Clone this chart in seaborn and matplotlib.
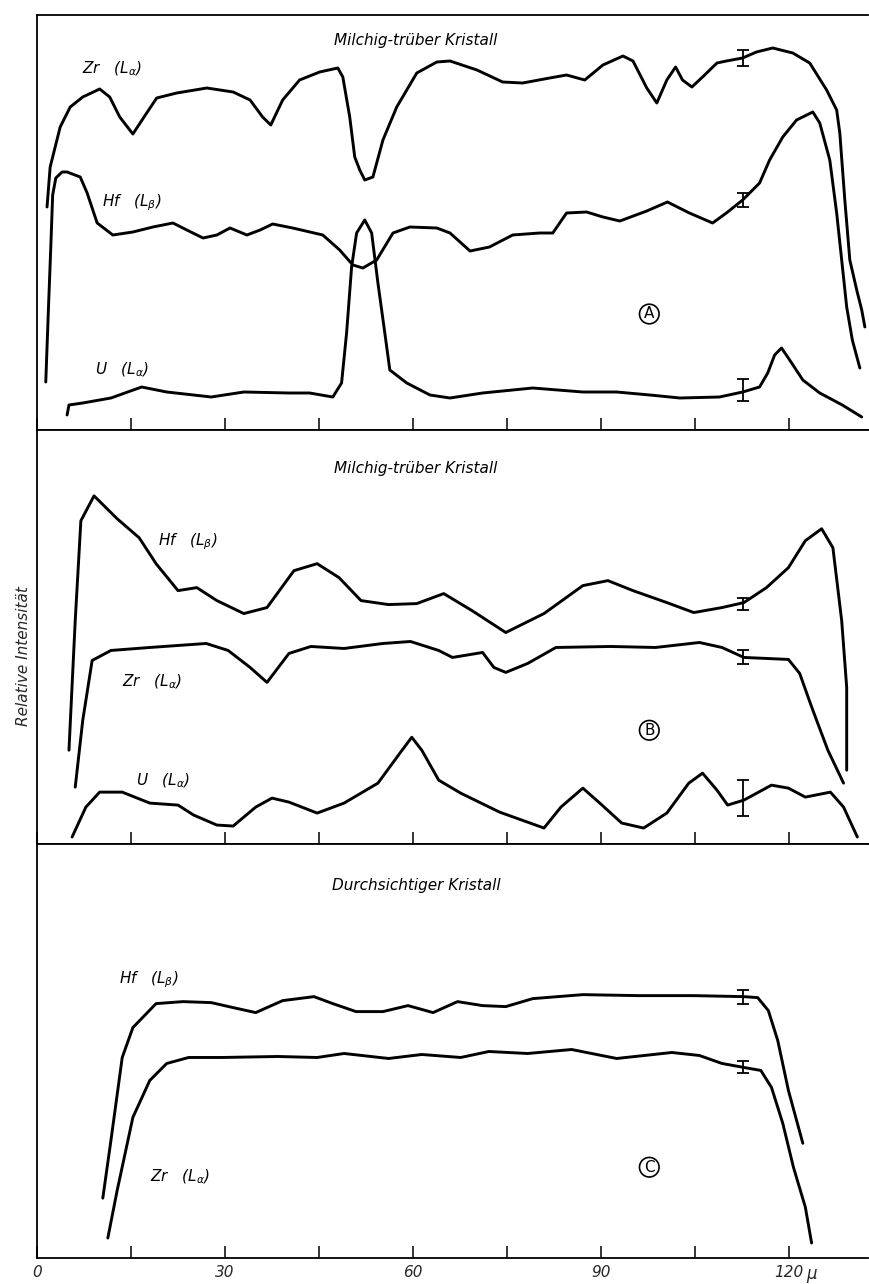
import numpy as np
import matplotlib
matplotlib.use("Agg")
import matplotlib.pyplot as plt
import seaborn as sns

# x positions in micrometres, intensities in arbitrary units (panel height ~415)

# panel A: Milchig-trueber Kristall
a_zr_x = [1.6, 2.1, 3.7, 5.3, 7.3, 10.0, 11.6, 13.2, 15.3, 17.5, 19.1, 22.3, 27.1, 31.3, 34.0, 36.0,
          37.3, 39.2, 41.9, 45.1, 48.0, 48.8, 49.9, 50.7, 51.5, 52.3, 53.6, 55.2, 57.4, 60.6, 63.8,
          65.9, 70.2, 74.3, 77.5, 81.8, 84.5, 87.4, 90.3, 93.5, 95.1, 97.3, 98.9, 100.5, 101.9, 103.0,
          104.5, 106.2, 108.5, 110.0, 112.6, 114.8, 117.4, 120.6, 123.3, 126.0, 127.6, 128.1, 128.9,
          129.7, 130.8, 131.6, 132.1]
a_zr_y = [223, 263, 303, 323, 333, 341, 333, 313, 296, 317, 332, 337, 342, 338, 330, 313,
          305, 330, 350, 358, 362, 353, 313, 273, 260, 250, 253, 290, 323, 357, 368,
          369, 360, 348, 347, 352, 355, 350, 365, 374, 369, 342, 327, 350, 363, 350,
          343, 353, 367, 369, 372, 378, 382, 377, 367, 340, 320, 297, 230,
          170, 140, 120, 103]

a_hf_x = [1.4, 1.8, 2.2, 2.5, 3.0, 4.0, 4.8, 6.9, 8.0, 9.6, 12.1, 15.3, 18.5, 21.7, 23.9, 26.5,
          28.7, 30.8, 33.5, 35.6, 37.6, 40.8, 45.6, 48.3, 50.4, 52.0, 54.2, 56.8, 59.5, 63.8, 65.9,
          69.1, 72.2, 75.9, 80.2, 82.3, 84.5, 87.7, 90.3, 93.0, 97.3, 100.6, 104.1, 107.8, 110.0,
          112.6, 115.3, 116.9, 119.0, 121.2, 123.8, 124.9, 126.5, 127.6, 128.4, 129.2, 130.1, 131.3]
a_hf_y = [48, 117, 183, 235, 252, 258, 258, 253, 237, 207, 195, 198, 203, 207, 200, 192,
          195, 202, 195, 200, 206, 202, 195, 180, 165, 162, 170, 197, 203, 202, 197,
          179, 183, 195, 197, 197, 217, 218, 213, 209, 219, 228, 217, 207, 217,
          230, 247, 270, 293, 310, 318, 307, 270, 217, 170, 123, 90, 62]

a_u_x = [4.8, 5.1, 7.3, 11.8, 16.7, 20.7, 27.8, 33.0, 40.2, 43.5, 47.2, 48.6, 49.4, 50.2, 51.0,
         52.3, 53.4, 54.4, 55.5, 56.3, 59.0, 62.7, 65.9, 71.1, 79.1, 87.1, 92.5, 97.8, 102.6,
         108.9, 112.6, 115.3, 116.6, 117.7, 118.8, 120.1, 122.2, 124.9, 128.5, 131.6]
a_u_y = [15, 25, 27, 32, 43, 38, 33, 38, 37, 37, 33, 47, 97, 163, 197,
         210, 197, 147, 97, 60, 47, 35, 32, 37, 42, 38, 38, 35, 32,
         33, 38, 43, 57, 75, 82, 70, 50, 37, 25, 13]

# panel B: Milchig-trueber Kristall
b_hf_x = [5.1, 6.1, 7.0, 9.1, 12.8, 16.3, 19.0, 22.5, 25.5, 28.7, 33.0, 36.7, 41.0, 44.7, 48.2,
          51.7, 56.1, 60.6, 64.9, 69.4, 74.8, 80.9, 87.1, 91.1, 95.1, 100.5, 104.8, 109.3, 112.8,
          116.4, 119.9, 122.6, 125.2, 127.0, 128.4, 129.2, 129.2]
b_hf_y = [94, 224, 324, 349, 326, 307, 281, 254, 257, 244, 231, 237, 274, 281, 267,
          244, 240, 241, 251, 234, 212, 231, 259, 264, 254, 242, 232, 237, 242,
          257, 277, 304, 316, 297, 224, 157, 74]

b_zr_x = [6.1, 7.3, 8.8, 11.8, 18.0, 27.0, 30.5, 34.0, 36.7, 40.2, 43.7, 49.0, 55.2, 59.6, 64.1,
          66.3, 71.1, 72.9, 74.8, 78.3, 82.8, 91.5, 98.7, 105.7, 109.3, 112.8, 116.4, 119.9, 121.7,
          123.4, 124.4, 126.2, 128.7]
b_zr_y = [57, 124, 184, 194, 197, 201, 194, 177, 162, 191, 198, 196, 201, 203, 194,
          187, 192, 177, 172, 181, 197, 198, 197, 202, 197, 187, 186, 185, 171,
          141, 124, 94, 61]

b_u_x = [5.6, 7.8, 10.0, 13.6, 18.0, 22.5, 25.0, 28.7, 31.3, 34.9, 37.5, 40.2, 44.7, 49.0, 54.4,
         57.9, 59.8, 61.4, 64.1, 67.6, 73.8, 80.9, 83.6, 87.1, 89.8, 93.3, 96.8, 100.5, 104.0,
         106.2, 108.5, 110.2, 112.8, 117.2, 119.9, 122.6, 126.6, 128.7, 130.9]
b_u_y = [7, 37, 52, 52, 41, 39, 29, 19, 18, 37, 46, 42, 31, 41, 61,
         91, 107, 94, 64, 51, 32, 16, 37, 56, 41, 21, 16, 31, 61,
         71, 54, 39, 44, 59, 56, 47, 52, 37, 7]

# panel C: Durchsichtiger Kristall
c_hf_x = [10.5, 11.8, 13.6, 15.3, 19.0, 23.3, 27.8, 31.3, 34.9, 39.2, 44.2, 47.2, 50.9, 55.2,
          59.2, 63.2, 67.1, 71.1, 74.8, 79.1, 87.1, 96.0, 104.8, 112.8, 115.0, 116.7, 118.2,
          119.9, 122.2]
c_hf_y = [60, 118, 201, 231, 255, 257, 256, 251, 246, 258, 262, 255, 247, 247,
          253, 246, 257, 253, 252, 260, 264, 263, 263, 262, 261, 248, 218,
          168, 115]

c_zr_x = [11.3, 12.8, 15.3, 18.0, 20.7, 24.2, 29.5, 38.4, 44.7, 49.0, 56.1, 61.4, 67.6, 72.1,
          78.3, 85.3, 92.5, 101.3, 105.7, 109.3, 112.8, 115.5, 117.2, 119.0, 120.7, 122.6, 123.6]
c_zr_y = [20, 68, 141, 178, 195, 201, 201, 202, 201, 205, 200, 204, 201, 207,
          205, 209, 200, 206, 203, 195, 191, 188, 171, 135, 91, 51, 15]

# error bars (x, centre, half length) per panel
err_x = 112.7
a_err_y = [372, 230, 40]
a_err_h = [8, 7, 11]
b_err_y = [241, 187, 46]
b_err_h = [6, 7, 18]
c_err_y = [262, 191]
c_err_h = [7, 6]

panel_titles = ["Milchig-trüber Kristall", "Milchig-trüber Kristall", "Durchsichtiger Kristall"]
panel_marks = ["A", "B", "C"]
tick_pos = [0, 15, 30, 45, 60, 75, 90, 105, 120]
tick_lab = ["0", "", "30", "", "60", "", "90", "", "120"]

sns.set_style("white")
plt.rcParams["font.family"] = ["DejaVu Sans"]
plt.rcParams["mathtext.fontset"] = "dejavusans"

fig = plt.figure(figsize=(8.7, 12.84), dpi=100)
left, width = 37 / 870, 831 / 870
axA = fig.add_axes([left, 1 - 430 / 1284, width, 415 / 1284])
axB = fig.add_axes([left, 1 - 844 / 1284, width, 414 / 1284])
axC = fig.add_axes([left, 1 - 1258 / 1284, width, 414 / 1284])

lw = 2.1
for ax in (axA, axB, axC):
    ax.set_xlim(0, 132.6)
    ax.set_ylim(0, 415)
    ax.set_yticks([])
    ax.set_xticks(tick_pos)
    ax.set_xticklabels([])
    ax.tick_params(axis="x", direction="in", length=9, width=1.1, color="k", bottom=True)
    for s in ("left", "bottom", "top"):
        ax.spines[s].set_visible(True)
        ax.spines[s].set_color("k")
        ax.spines[s].set_linewidth(1.3)
    ax.spines["right"].set_visible(False)
    ax.set_xlabel("")
    ax.set_ylabel("")

curves = [
    (axA, a_zr_x, a_zr_y), (axA, a_hf_x, a_hf_y), (axA, a_u_x, a_u_y),
    (axB, b_hf_x, b_hf_y), (axB, b_zr_x, b_zr_y), (axB, b_u_x, b_u_y),
    (axC, c_hf_x, c_hf_y), (axC, c_zr_x, c_zr_y),
]
for ax, xs, ys in curves:
    sns.lineplot(x=xs, y=ys, ax=ax, sort=False, estimator=None, color="k", lw=lw,
                 solid_joinstyle="round", solid_capstyle="round")

for ax, ey, eh in ((axA, a_err_y, a_err_h), (axB, b_err_y, b_err_h), (axC, c_err_y, c_err_h)):
    ax.errorbar([err_x] * len(ey), ey, yerr=eh, fmt="none", ecolor="k", elinewidth=1.3,
                capsize=4, capthick=1.3)

tkw = dict(fontsize=11, style="italic", color="k")
lab_a = "($L_{\\alpha}$)"
lab_b = "($L_{\\beta}$)"

# panel labels
axA.text(7.2, 361, "Zr   " + lab_a, va="center", **tkw)
axA.text(10.4, 227, "Hf   " + lab_b, va="center", **tkw)
axA.text(9.3, 60, "U   " + lab_a, va="center", **tkw)
axB.text(19.3, 303, "Hf   " + lab_b, va="center", **tkw)
axB.text(13.6, 163, "Zr   " + lab_a, va="center", **tkw)
axB.text(15.8, 63, "U   " + lab_a, va="center", **tkw)
axC.text(13.1, 279, "Hf   " + lab_b, va="center", **tkw)
axC.text(18.0, 81, "Zr   " + lab_a, va="center", **tkw)

title_y = [390, 376, 373]
mark_y = [116, 114, 91]
for ax, t, ty, m, my in zip((axA, axB, axC), panel_titles, title_y, panel_marks, mark_y):
    ax.text(60.5, ty, t, ha="center", va="center", **tkw)
    ax.text(97.7, my, m, ha="center", va="center", fontsize=11, color="k",
            bbox=dict(boxstyle="circle,pad=0.15", fc="none", ec="k", lw=1.2))

# bottom axis labels
axC.set_xticklabels(tick_lab, fontsize=11, style="italic")
axC.tick_params(axis="x", pad=5)
axC.annotate("µ", xy=(123.6, 0), xycoords=("data", "axes fraction"), xytext=(0, -5),
             textcoords="offset points", ha="center", va="top", fontsize=12, style="italic")

fig.text(24 / 870, 1 - 656 / 1284, "Relative Intensität", rotation=90, ha="center",
         va="center", fontsize=11, style="italic")

fig.savefig("out.png", dpi=100, facecolor="white")
